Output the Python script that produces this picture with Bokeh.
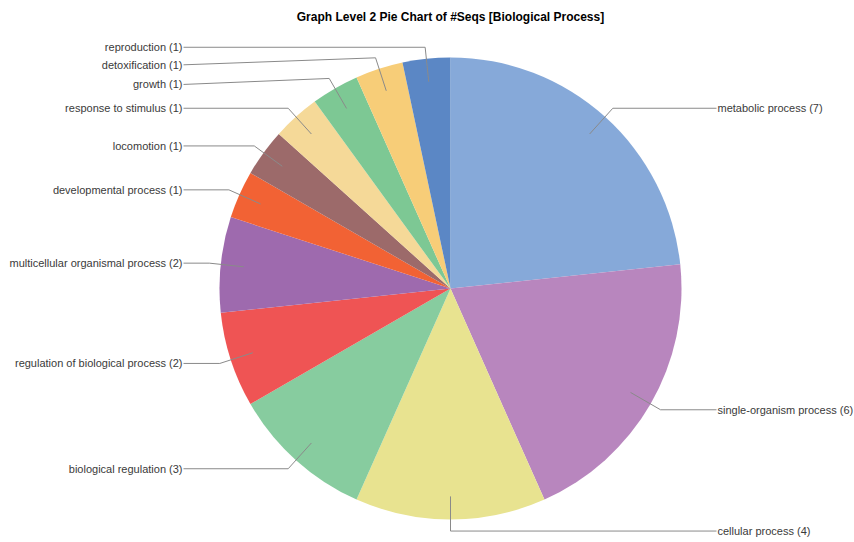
import math
from bokeh.plotting import figure
from bokeh.models import Range1d, ColumnDataSource
from bokeh.core.properties import value
from bokeh.embed import file_html
from bokeh.resources import INLINE

# ---- data (clockwise from 12 o'clock) ----
categories = [
    "metabolic process", "single-organism process", "cellular process",
    "biological regulation", "regulation of biological process",
    "multicellular organismal process", "developmental process",
    "locomotion", "response to stimulus", "growth", "detoxification",
    "reproduction",
]
counts = [7, 6, 4, 3, 2, 2, 1, 1, 1, 1, 1, 1]
colors = [
    "#86a9d9", "#b886be", "#e8e390", "#87cc9f", "#ef5454", "#9e6aae",
    "#f26234", "#9c6a6a", "#f5d998", "#7dc894", "#f7cd78", "#5b87c5",
]
title_text = "Graph Level 2 Pie Chart of #Seqs [Biological Process]"

# ---- layout (pixel-like data space, y up, image y = 542 - data y) ----
W, H = 854, 542
CX, CY, R = 450, 254, 231
R_IN, R_OUT = 0.9 * R, 1.05 * R
RIGHT_X, LEFT_X = 716, 183
# label vertical nudges (px) for crowded top-left labels
nudge = {"detoxification": -7, "growth": -6}

p = figure(width=W, height=H, output_backend="svg", toolbar_location=None,
           x_range=Range1d(0, W), y_range=Range1d(0, H),
           min_border=0)
p.axis.visible = False
p.grid.visible = False
p.outline_line_color = None
p.background_fill_color = "white"

total = sum(counts)
starts, ends, mids = [], [], []
cum = 0
for c in counts:
    a0 = math.pi / 2 - 2 * math.pi * cum / total
    cum += c
    a1 = math.pi / 2 - 2 * math.pi * cum / total
    starts.append(a0)
    ends.append(a1)
    mids.append((a0 + a1) / 2)

src = ColumnDataSource(dict(start=starts, end=ends, color=colors))
p.wedge(x=CX, y=CY, radius=R, start_angle="start", end_angle="end",
        direction="clock", fill_color="color", line_color=None, source=src)

# leader lines and labels
lx, ly, ltxt, lxr, lyr, rtxt = [], [], [], [], [], []
for name, c, m in zip(categories, counts, mids):
    x0 = CX + R_IN * math.cos(m)
    y0 = CY + R_IN * math.sin(m)
    x1 = CX + R_OUT * math.cos(m)
    y1 = CY + R_OUT * math.sin(m)
    ty = y1 + nudge.get(name, 0)
    label = f"{name} ({c})"
    if math.cos(m) >= -1e-9:
        tx = RIGHT_X
        p.line([x0, x1, tx], [y0, y1, ty], line_color="#8a8a8a", line_width=1)
        lxr.append(tx + 1); lyr.append(ty); rtxt.append(label)
    else:
        tx = LEFT_X
        p.line([x0, x1, tx], [y0, y1, ty], line_color="#8a8a8a", line_width=1)
        lx.append(tx - 1); ly.append(ty); ltxt.append(label)

p.text(x=lxr, y=lyr, text=rtxt, text_align="left", text_baseline="middle",
       text_font=value("Liberation Sans"), text_font_size="11px",
       text_color="#3a3a3a")
p.text(x=lx, y=ly, text=ltxt, text_align="right", text_baseline="middle",
       text_font=value("Liberation Sans"), text_font_size="11px",
       text_color="#3a3a3a")

p.text(x=[450], y=[542 - 16], text=[title_text], text_align="center",
       text_baseline="middle", text_font=value("Liberation Sans"),
       text_font_size="12px", text_font_style="bold", text_color="#000000")

open("out.html", "w").write(file_html(p, INLINE))
